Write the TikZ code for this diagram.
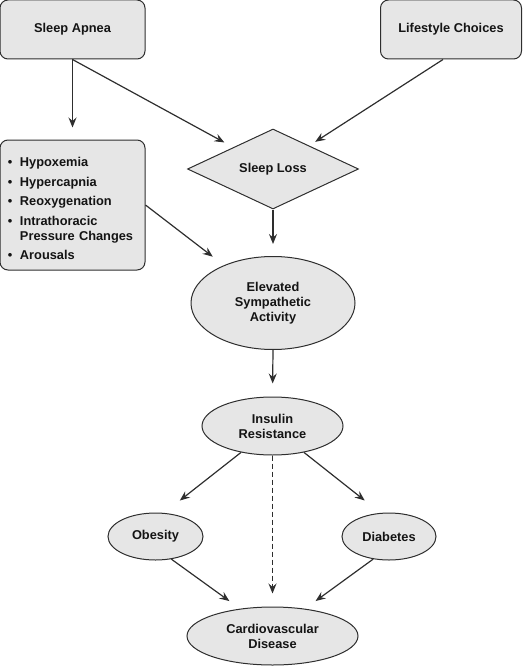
\documentclass[tikz,border=0pt]{standalone}
\usepackage{fontspec}
\setmainfont{Liberation Sans}
\usetikzlibrary{shapes.geometric, arrows.meta}

\definecolor{boxfill}{HTML}{E6E6E6}
\definecolor{boxline}{HTML}{2E2E2E}

\tikzset{
  cause/.style={rectangle, rounded corners=8pt, draw=boxline, fill=boxfill,
                line width=1pt, minimum width=145pt, minimum height=59pt},
  effect/.style={ellipse, draw=boxline, fill=boxfill, line width=1pt,
                 inner sep=0pt, align=center},
}

\begin{document}
\begin{tikzpicture}[x=1pt, y=-1pt,
  font=\fontsize{12.8}{15}\selectfont\bfseries, text=black!92]
\useasboundingbox (0,0) rectangle (522,666);
\begin{scope}[every node/.style={inner sep=0pt}]
    \node[cause] (SA) at (72.5,29.5) {Sleep Apnea};
    \node[cause, minimum width=141pt] (LC) at (451,29.5) {Lifestyle Choices};
    \node[cause, minimum height=130pt, text width=129pt, inner xsep=8pt,
          align=left] (MECH) at (72.5,205)
        {\rule{0pt}{17pt}\makebox[12pt][l]{\textbullet}Hypoxemia\\[4.5pt]
         \makebox[12pt][l]{\textbullet}Hypercapnia\\[4.5pt]
         \makebox[12pt][l]{\textbullet}Reoxygenation\\[4.5pt]
         \makebox[12pt][l]{\textbullet}Intrathoracic\\
         \hspace*{12pt}Pressure Changes\\[4.5pt]
         \makebox[12pt][l]{\textbullet}Arousals};
    \node[diamond, draw=boxline, fill=boxfill, line width=1pt, aspect=2.1,
          minimum width=171pt, minimum height=80pt] (SL) at (273,169) {Sleep Loss};
    \node[effect, minimum width=164pt, minimum height=93pt] (ESA) at (273,303)
        {Elevated\\Sympathetic\\Activity};
    \node[effect, minimum width=141pt, minimum height=58pt] (IR) at (272.5,426)
        {Insulin\\Resistance};
    \node[effect, minimum width=95pt, minimum height=47pt] (OB) at (155.5,536.5) {Obesity};
    \node[effect, minimum width=94pt, minimum height=47pt] (DB) at (389,536.5) {Diabetes};
    \node[effect, minimum width=171pt, minimum height=58pt] (CVD) at (272.5,636)
        {Cardiovascular\\Disease};
\end{scope}
\begin{scope}[>={Stealth[length=10pt, width=8pt, inset=3.5pt]},
              every edge/.style={draw=boxline, line width=1.2pt}]
    \path [->, shorten >=12pt] (SA.south) edge (MECH.north);
    \path [->, shorten >=10pt] (SA.south) edge (SL);
    \path [->, shorten >=7pt] ([xshift=-8pt]LC.south) edge (SL);
    \path [->, shorten >=14pt] (MECH.east) edge (ESA);
    \path [->, shorten >=12pt] (SL.south) edge (ESA.north);
    \path [->, shorten >=13pt] (ESA.south) edge (IR.north);
    \path [->, shorten >=20pt] (IR.220) edge (OB.70);
    \path [->, shorten >=20pt] (IR.320) edge (DB.110);
    \path [->, shorten >=13pt, dash pattern=on 5pt off 3pt] (IR.south) edge (CVD.north);
    \path [->, shorten >=13pt] (OB.305) edge (CVD.140);
    \path [->, shorten >=13pt] (DB.235) edge (CVD.40);
\end{scope}
\end{tikzpicture}
\end{document}
